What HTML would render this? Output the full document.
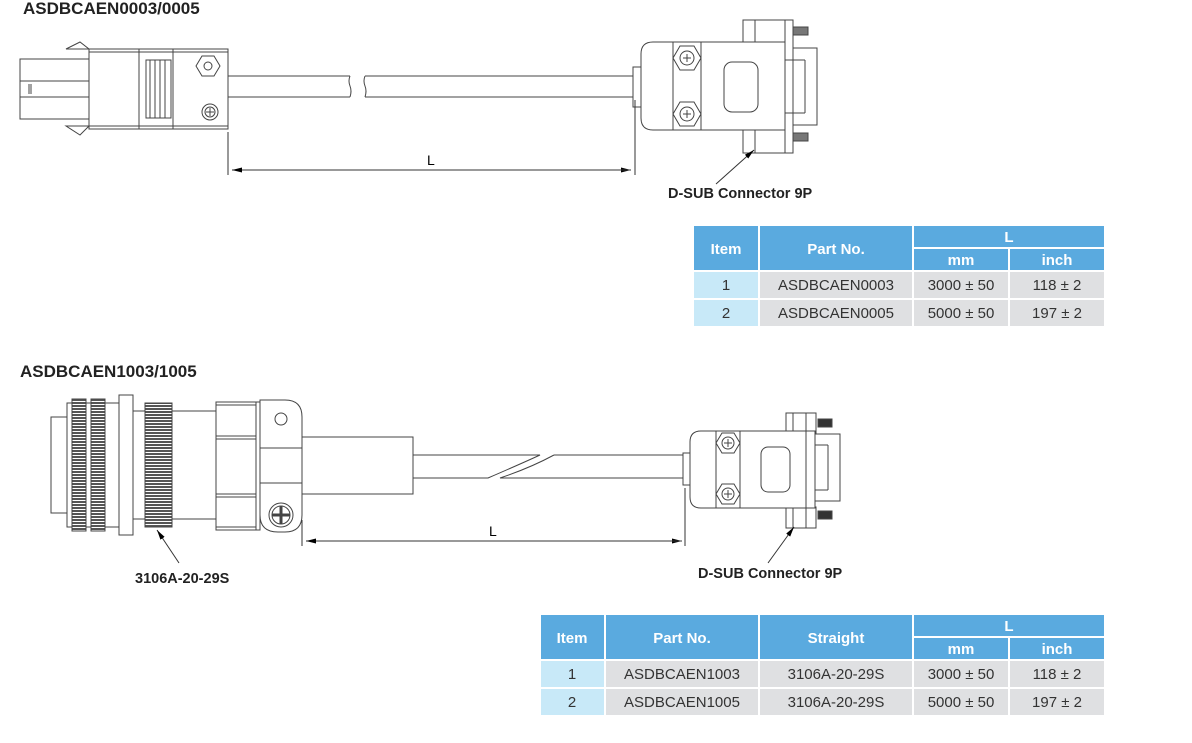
<!DOCTYPE html>
<html><head><meta charset="utf-8"><style>
body{margin:0;background:#fff;width:1192px;height:743px;overflow:hidden}
svg{display:block}
text{font-family:"Liberation Sans",Arial,sans-serif}
.b{font-weight:bold}
</style></head><body>
<svg width="1192" height="743" viewBox="0 0 1192 743" xmlns="http://www.w3.org/2000/svg">
<defs>
<marker id="ar" markerWidth="10" markerHeight="6" refX="10" refY="3" orient="auto" markerUnits="userSpaceOnUse"><path d="M0,0.5 L10,3 L0,5.5z" fill="#000"/></marker>
<pattern id="kn" width="4" height="3" patternUnits="userSpaceOnUse"><rect width="4" height="3" fill="#fff"/><rect width="4" height="2" fill="#555"/></pattern>
</defs>
<text x="23" y="14" class="b" font-size="17" fill="#222">ASDBCAEN0003/0005</text>
<g fill="#fff" stroke="#444" stroke-width="1">
<rect x="20" y="59" width="69" height="60"/>
<line x1="20" y1="81" x2="89" y2="81"/><line x1="20" y1="97" x2="89" y2="97"/>
<line x1="29" y1="84" x2="29" y2="94"/><line x1="31" y1="84" x2="31" y2="94"/>
<path d="M66,49 L80,42 L89,49z"/><path d="M66,126 L80,135 L89,126z"/>
<rect x="89" y="49" width="139" height="80"/>
<line x1="89" y1="52" x2="228" y2="52"/><line x1="89" y1="126" x2="228" y2="126"/>
<line x1="139" y1="49" x2="139" y2="129"/><line x1="173" y1="49" x2="173" y2="129"/>
<rect x="146" y="60" width="25" height="58"/>
<line x1="150" y1="60" x2="150" y2="118"/><line x1="155" y1="60" x2="155" y2="118"/><line x1="160" y1="60" x2="160" y2="118"/><line x1="165" y1="60" x2="165" y2="118"/>
<polygon points="202,56 214,56 220,66 214,76 202,76 196,66"/><circle cx="208" cy="66" r="4"/>
<circle cx="210" cy="112" r="8"/><circle cx="210" cy="112" r="5"/>
<path d="M206,112 h8 M210,108 v8"/>
<path d="M228,76 H350 M228,97 H350 M365,76 H635 M365,97 H635" fill="none"/>
<path d="M350,76 q-2,5 0,10 q2,5 0,11 M365,76 q-2,5 0,10 q2,5 0,11" fill="none"/>
<rect x="633" y="67" width="8" height="40"/>
<rect x="743" y="20" width="42" height="22"/><rect x="743" y="130" width="42" height="23"/>
<line x1="755" y1="20" x2="755" y2="42"/><line x1="755" y1="130" x2="755" y2="153"/>
<rect x="793" y="48" width="24" height="77"/>
<rect x="792" y="27" width="16" height="8" fill="#777"/><rect x="792" y="133" width="16" height="8" fill="#777"/>
<rect x="785" y="20" width="8" height="133"/>
<path d="M785,42 H653 Q641,42 641,54 V118 Q641,130 653,130 H785 V42 Z"/>
<line x1="785" y1="60" x2="805" y2="60"/><line x1="805" y1="60" x2="805" y2="113"/><line x1="785" y1="113" x2="805" y2="113"/>
<polygon points="680,46 694,46 701,58 694,70 680,70 673,58"/><circle cx="687" cy="58" r="7"/><path d="M683,58 h8 M687,54 v8"/>
<polygon points="680,102 694,102 701,114 694,126 680,126 673,114"/><circle cx="687" cy="114" r="7"/><path d="M683,114 h8 M687,110 v8"/>
<line x1="673" y1="42" x2="673" y2="130"/><line x1="701" y1="42" x2="701" y2="130"/>
<rect x="724" y="62" width="34" height="50" rx="8"/>
</g>
<g stroke="#333" stroke-width="1" fill="none">
<line x1="228" y1="132" x2="228" y2="175"/><line x1="635" y1="100" x2="635" y2="175"/>
<line x1="232" y1="170" x2="631" y2="170" marker-end="url(#ar)"/>
<line x1="631" y1="170" x2="232" y2="170" marker-end="url(#ar)"/>
<line x1="716" y1="184" x2="754" y2="150" marker-end="url(#ar)"/>
</g>
<text x="427" y="165" font-size="14">L</text>
<text x="668" y="198" class="b" font-size="14.5" fill="#222">D-SUB Connector 9P</text>

<text x="20" y="377" class="b" font-size="17" fill="#222">ASDBCAEN1003/1005</text>
<g fill="#fff" stroke="#444" stroke-width="1">
<rect x="51" y="417" width="17" height="96"/>
<rect x="67" y="403" width="52" height="124"/>
<rect x="72" y="399" width="14" height="132" fill="url(#kn)"/>
<rect x="91" y="399" width="14" height="132" fill="url(#kn)"/>
<rect x="119" y="395" width="14" height="140"/>
<rect x="133" y="411" width="84" height="108"/>
<rect x="145" y="403" width="27" height="124" fill="url(#kn)"/>
<rect x="216" y="402" width="44" height="128"/>
<line x1="216" y1="405" x2="256" y2="405"/><line x1="216" y1="436" x2="256" y2="436"/><line x1="216" y1="439" x2="256" y2="439"/>
<line x1="216" y1="494" x2="256" y2="494"/><line x1="216" y1="497" x2="256" y2="497"/><line x1="216" y1="527" x2="256" y2="527"/>
<line x1="256" y1="402" x2="256" y2="530"/>
<path d="M260,400 H285 Q302,400 302,417 V515 Q302,532 285,532 H278 Q260,532 260,515 Z"/>
<line x1="260" y1="448" x2="302" y2="448"/><line x1="260" y1="483" x2="302" y2="483"/>
<circle cx="281" cy="419" r="6"/>
<circle cx="281" cy="515" r="12"/><circle cx="281" cy="515" r="9"/>
<path d="M272,515 h18 M281,506 v18" stroke-width="3"/>
<rect x="302" y="437" width="111" height="57"/>
<path d="M413,455 H540 Q525,462 488,478 H413 M554,455 H683 M683,478 H500 Q530,468 554,455" fill="none"/>
<rect x="683" y="453" width="8" height="32"/>
<rect x="786" y="413" width="30" height="20"/><rect x="786" y="507" width="30" height="21"/>
<line x1="793" y1="413" x2="793" y2="433"/><line x1="793" y1="507" x2="793" y2="528"/>
<rect x="815" y="434" width="25" height="67"/>
<rect x="818" y="419" width="14" height="8" fill="#333"/><rect x="818" y="511" width="14" height="8" fill="#333"/>
<line x1="815" y1="445" x2="828" y2="445"/><line x1="828" y1="445" x2="828" y2="490"/><line x1="815" y1="490" x2="828" y2="490"/>
<path d="M815,431 H701 Q690,431 690,442 V497 Q690,508 701,508 H815 Z"/>
<line x1="806" y1="413" x2="806" y2="528"/>
<polygon points="722,433 734,433 740,443 734,453 722,453 716,443"/><circle cx="728" cy="443" r="6"/><path d="M724,443 h8 M728,439 v8"/>
<polygon points="722,484 734,484 740,494 734,504 722,504 716,494"/><circle cx="728" cy="494" r="6"/><path d="M724,494 h8 M728,490 v8"/>
<line x1="716" y1="431" x2="716" y2="508"/><line x1="740" y1="431" x2="740" y2="508"/>
<rect x="761" y="447" width="29" height="45" rx="7"/>
</g>
<g stroke="#333" stroke-width="1" fill="none">
<line x1="302" y1="520" x2="302" y2="546"/><line x1="685" y1="488" x2="685" y2="546"/>
<line x1="306" y1="541" x2="682" y2="541" marker-end="url(#ar)"/>
<line x1="682" y1="541" x2="306" y2="541" marker-end="url(#ar)"/>
<line x1="179" y1="563" x2="157" y2="530" marker-end="url(#ar)"/>
<line x1="768" y1="563" x2="794" y2="527" marker-end="url(#ar)"/>
</g>
<text x="489" y="536" font-size="14">L</text>
<text x="135" y="583" class="b" font-size="14.5" fill="#222">3106A-20-29S</text>
<text x="698" y="578" class="b" font-size="14.5" fill="#222">D-SUB Connector 9P</text>

<g font-size="15">
<rect x="694" y="226" width="64" height="44" fill="#5aaadf"/>
<rect x="760" y="226" width="152" height="44" fill="#5aaadf"/>
<rect x="914" y="226" width="190" height="21" fill="#5aaadf"/>
<rect x="914" y="249" width="94" height="21" fill="#5aaadf"/>
<rect x="1010" y="249" width="94" height="21" fill="#5aaadf"/>
<rect x="694" y="272" width="64" height="26" fill="#c8e9f8"/>
<rect x="694" y="300" width="64" height="26" fill="#c8e9f8"/>
<rect x="760" y="272" width="152" height="26" fill="#dfe0e2"/><rect x="914" y="272" width="94" height="26" fill="#dfe0e2"/><rect x="1010" y="272" width="94" height="26" fill="#dfe0e2"/>
<rect x="760" y="300" width="152" height="26" fill="#dfe0e2"/><rect x="914" y="300" width="94" height="26" fill="#dfe0e2"/><rect x="1010" y="300" width="94" height="26" fill="#dfe0e2"/>
<g fill="#fff" text-anchor="middle" font-weight="bold">
<text x="726" y="254">Item</text><text x="836" y="254">Part No.</text>
<text x="1009" y="242">L</text><text x="961" y="265">mm</text><text x="1057" y="265">inch</text>
</g>
<g fill="#333" text-anchor="middle">
<text x="726" y="290">1</text><text x="836" y="290">ASDBCAEN0003</text><text x="961" y="290">3000 ± 50</text><text x="1057" y="290">118 ± 2</text>
<text x="726" y="318">2</text><text x="836" y="318">ASDBCAEN0005</text><text x="961" y="318">5000 ± 50</text><text x="1057" y="318">197 ± 2</text>
</g>
</g>

<g font-size="15">
<rect x="541" y="615" width="63" height="44" fill="#5aaadf"/>
<rect x="606" y="615" width="152" height="44" fill="#5aaadf"/>
<rect x="760" y="615" width="152" height="44" fill="#5aaadf"/>
<rect x="914" y="615" width="190" height="21" fill="#5aaadf"/>
<rect x="914" y="638" width="94" height="21" fill="#5aaadf"/>
<rect x="1010" y="638" width="94" height="21" fill="#5aaadf"/>
<rect x="541" y="661" width="63" height="26" fill="#c8e9f8"/>
<rect x="541" y="689" width="63" height="26" fill="#c8e9f8"/>
<rect x="606" y="661" width="152" height="26" fill="#dfe0e2"/><rect x="760" y="661" width="152" height="26" fill="#dfe0e2"/><rect x="914" y="661" width="94" height="26" fill="#dfe0e2"/><rect x="1010" y="661" width="94" height="26" fill="#dfe0e2"/>
<rect x="606" y="689" width="152" height="26" fill="#dfe0e2"/><rect x="760" y="689" width="152" height="26" fill="#dfe0e2"/><rect x="914" y="689" width="94" height="26" fill="#dfe0e2"/><rect x="1010" y="689" width="94" height="26" fill="#dfe0e2"/>
<g fill="#fff" text-anchor="middle" font-weight="bold">
<text x="572" y="643">Item</text><text x="682" y="643">Part No.</text><text x="836" y="643">Straight</text>
<text x="1009" y="631">L</text><text x="961" y="654">mm</text><text x="1057" y="654">inch</text>
</g>
<g fill="#333" text-anchor="middle">
<text x="572" y="679">1</text><text x="682" y="679">ASDBCAEN1003</text><text x="836" y="679">3106A-20-29S</text><text x="961" y="679">3000 ± 50</text><text x="1057" y="679">118 ± 2</text>
<text x="572" y="707">2</text><text x="682" y="707">ASDBCAEN1005</text><text x="836" y="707">3106A-20-29S</text><text x="961" y="707">5000 ± 50</text><text x="1057" y="707">197 ± 2</text>
</g>
</g>
</svg>
</body></html>
